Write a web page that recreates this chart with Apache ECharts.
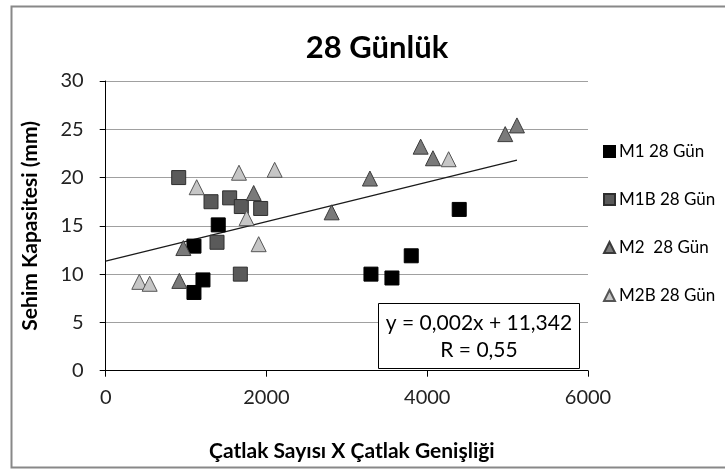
<!DOCTYPE html>
<html>
<head>
<meta charset="utf-8">
<script src="https://cdn.jsdelivr.net/npm/echarts@6/dist/echarts.min.js"></script>
<style>
  html, body { margin: 0; padding: 0; background: #fff; }
  #chart { width: 725px; height: 469px; }
</style>
</head>
<body>
<div id="chart"></div>
<script>
// Çatlak sayısı × çatlak genişliği (x) vs sehim kapasitesi in mm (y), 28-day specimens
const m1X  = [1400, 1098, 1210, 1098, 4398, 3801, 3300, 3561];
const m1Y  = [15.1, 12.9, 9.4, 8.1, 16.7, 11.9, 10.0, 9.6];

const m1bX = [908, 1310, 1542, 1687, 1928, 1385, 1675];
const m1bY = [20.0, 17.5, 17.9, 17.0, 16.8, 13.3, 10.0];

const m2X  = [966, 916, 1841, 2811, 3287, 3918, 4071, 4970, 5116];
const m2Y  = [12.7, 9.3, 18.4, 16.4, 19.9, 23.2, 22.0, 24.5, 25.4];

const m2bX = [418, 547, 1132, 1658, 2102, 1753, 1903, 4266];
const m2bY = [9.2, 9.0, 19.0, 20.5, 20.8, 15.8, 13.1, 21.9];

// linear trend over all series: y = 0,002x + 11,342
const trendX = [0, 5116];
const trendY = [11.342, 21.8];

const seriesNames = ['M1 28 Gün', 'M1B 28 Gün', 'M2  28 Gün', 'M2B 28 Gün'];
const xTicks = [0, 2000, 4000, 6000];
const yTicks = [0, 5, 10, 15, 20, 25, 30];
const equationText = ['y = 0,002x + 11,342', 'R = 0,55'];

const FONT = 'Lato, "Open Sans", sans-serif';
const zip = (xs, ys) => xs.map((x, i) => [x, ys[i]]);

const chart = echarts.init(document.getElementById('chart'), null, { renderer: 'canvas' });

const markerStyles = [
  { symbol: 'rect',     size: 14, color: '#000000', border: '#000000' },
  { symbol: 'rect',     size: 14, color: '#5a5a5a', border: '#2e2e2e' },
  { symbol: 'triangle', size: 15, color: '#7a7a7a', border: '#3a3a3a' },
  { symbol: 'triangle', size: 15, color: '#c6c6c6', border: '#555555' }
];
const dataSets = [zip(m1X, m1Y), zip(m1bX, m1bY), zip(m2X, m2Y), zip(m2bX, m2bY)];

const scatterSeries = dataSets.map((d, i) => ({
  name: seriesNames[i],
  type: 'scatter',
  data: d,
  symbol: markerStyles[i].symbol,
  symbolSize: markerStyles[i].size,
  itemStyle: { color: markerStyles[i].color, borderColor: markerStyles[i].border, borderWidth: 1, opacity: 1 },
  emphasis: { disabled: true },
  z: 3
}));

chart.setOption({
  animation: false,
  backgroundColor: '#ffffff',
  title: {
    text: '28 Günlük',
    left: 372, top: 27, textAlign: 'center',
    textStyle: { fontFamily: FONT, fontSize: 31, fontWeight: 'bold', color: '#000' }
  },
  legend: {
    orient: 'vertical',
    left: 598, top: 138,
    itemGap: 31,
    itemWidth: 11, itemHeight: 11,
    data: seriesNames,
    textStyle: { fontFamily: FONT, fontSize: 17, color: '#000', padding: [0, 0, 0, -1] },
    selectedMode: false
  },
  grid: { left: 105.7, right: 137, top: 81, bottom: 98.3, containLabel: false },
  xAxis: {
    type: 'value', min: xTicks[0], max: xTicks[xTicks.length - 1], interval: 2000,
    name: 'Çatlak Sayısı X Çatlak Genişliği',
    nameLocation: 'middle', nameGap: 70,
    nameTextStyle: { fontFamily: FONT, fontSize: 21, fontWeight: 'bold', color: '#000', padding: [0, 0, 0, 10] },
    axisLine: { show: true, onZero: false, lineStyle: { color: '#000', width: 1 } },
    axisTick: { show: true, inside: false, length: 6, lineStyle: { color: '#000' } },
    axisLabel: { margin: 17, fontFamily: FONT, fontSize: 20, color: '#222', formatter: v => String(v) },
    splitLine: { show: false }
  },
  yAxis: {
    type: 'value', min: yTicks[0], max: yTicks[yTicks.length - 1], interval: 5,
    name: 'Sehim Kapasitesi (mm)',
    nameLocation: 'middle', nameGap: 65, nameRotate: 90,
    nameTextStyle: { fontFamily: FONT, fontSize: 21, fontWeight: 'bold', color: '#000' },
    axisLine: { show: true, onZero: false, lineStyle: { color: '#000', width: 1 } },
    axisTick: { show: true, inside: false, length: 6, lineStyle: { color: '#000' } },
    axisLabel: { margin: 22, fontFamily: FONT, fontSize: 20, color: '#222', formatter: v => String(v) },
    splitLine: { show: true, lineStyle: { color: '#a0a0a0', width: 1 } }
  },
  series: scatterSeries.concat([{
    name: 'trend',
    type: 'line',
    data: zip(trendX, trendY),
    symbol: 'none',
    lineStyle: { color: '#1a1a1a', width: 1.2 },
    emphasis: { disabled: true },
    z: 2
  }]),
  graphic: [
    {
      type: 'rect', z: 0, silent: true,
      shape: { x: 11.5, y: 6.5, width: 730, height: 461 },
      style: { fill: null, stroke: '#888', lineWidth: 2 }
    },
    {
      type: 'group', left: 378, top: 303, z: 100, zlevel: 1,
      children: [
        { type: 'rect', z: 100, zlevel: 1, shape: { x: 0, y: 0, width: 201, height: 65 },
          style: { fill: '#fff', stroke: '#000', lineWidth: 1 } },
        { type: 'text', z: 101, zlevel: 1, x: 100.5, y: 20, style: { text: equationText[0], fontFamily: FONT, fontSize: 21,
          fill: '#000', align: 'center', verticalAlign: 'middle' } },
        { type: 'text', z: 101, zlevel: 1, x: 100.5, y: 47, style: { text: equationText[1], fontFamily: FONT, fontSize: 21,
          fill: '#000', align: 'center', verticalAlign: 'middle' } }
      ]
    }
  ]
});
</script>
</body>
</html>
